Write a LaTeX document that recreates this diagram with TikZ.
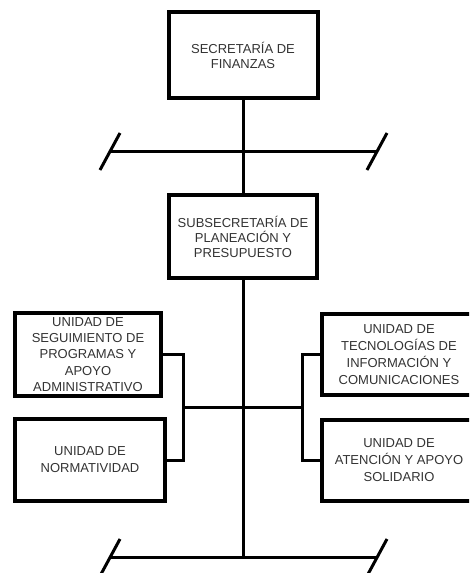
\documentclass[tikz,border=0pt]{standalone}
\usepackage{fontspec}
\setmainfont{Liberation Sans}
\usepackage{tikz}
\usetikzlibrary{calc,positioning}

\tikzset{
  orgbox/.style={draw, line width=4pt, align=center, inner sep=0pt,
    text=black!80, font=\fontsize{13}{17}\selectfont},
  headbox/.style={orgbox, font=\fontsize{13}{15}\selectfont},
  link/.style={line width=3pt},
  slash/.style={line width=3pt}
}

\begin{document}
\begin{tikzpicture}[x=1pt,y=-1pt]
\path[use as bounding box, clip] (0,0) rectangle (469,573);

% Draw the boxes
\node[headbox, minimum width=149pt, minimum height=86pt] (secre) at (243,55) {SECRETAR\'IA DE\\FINANZAS};
\node[headbox, minimum width=148pt, minimum height=83pt] (subsec) at (243,236.5) {SUBSECRETAR\'IA DE\\PLANEACI\'ON Y\\PRESUPUESTO};
\node[orgbox, font=\fontsize{13}{16.2}\selectfont, minimum width=146pt, minimum height=83pt] (seguim) at (88,354.5) {UNIDAD DE\\SEGUIMIENTO DE\\PROGRAMAS Y\\APOYO\\ADMINISTRATIVO};
\node[orgbox, minimum width=150pt, minimum height=82pt] (normat) at (90,460) {UNIDAD DE\\NORMATIVIDAD};
\node[orgbox, minimum width=154pt, minimum height=81pt] (tecnol) at (399,354.5) {UNIDAD DE\\TECNOLOG\'IAS DE\\INFORMACI\'ON Y\\COMUNICACIONES};
\node[orgbox, minimum width=154pt, minimum height=81pt] (atenc) at (399,460.5) {UNIDAD DE\\ATENCI\'ON Y APOYO\\SOLIDARIO};

% Junctions on the spine
\coordinate (tick1) at (243,151);
\coordinate (tick2) at (243,557);
\coordinate (lbar) at (183,407);
\coordinate (rbar) at (302,407);

% Draw the spine
\draw[link] (secre.south) -- (subsec.north);
\draw[link] (subsec.south) -- (tick2);

% Draw the brackets to the units
\draw[link] (seguim.east) -| (lbar) |- (normat.east);
\draw[link] (tecnol.west) -| (rbar) |- (atenc.west);
\draw[link] (lbar) -- (rbar);

% Draw the cut lines with slashes
\foreach \t in {tick1,tick2} {
  \coordinate (l) at ($(\t)+(-133,0)$);
  \coordinate (r) at ($(\t)+(134,0)$);
  \draw[link] (l) -- (r);
  \draw[slash] ($(l)+(-10,19)$) -- ($(l)+(10,-18)$);
  \draw[slash] ($(r)+(-10,19)$) -- ($(r)+(10,-18)$);
}
\end{tikzpicture}
\end{document}
